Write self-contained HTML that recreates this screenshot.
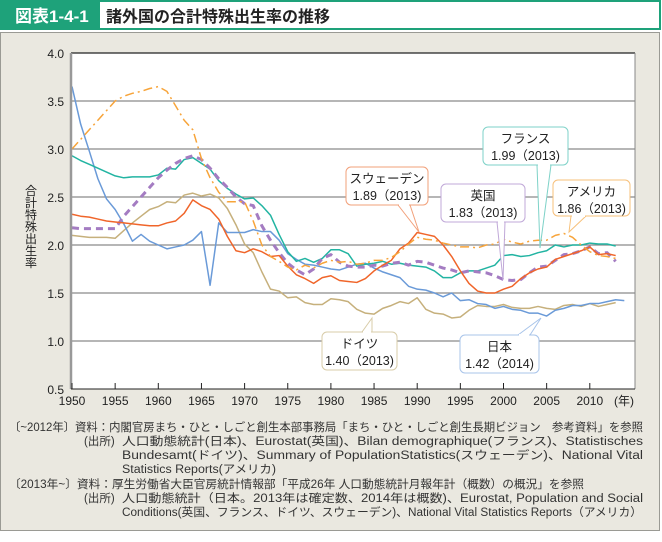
<!DOCTYPE html>
<html><head><meta charset="utf-8">
<style>
body{margin:0;width:662px;height:537px;background:#fff;font-family:"Liberation Sans","Noto Sans CJK JP",sans-serif;overflow:hidden}
svg text{font-family:"Liberation Sans","Noto Sans CJK JP",sans-serif}
</style></head>
<body>
<svg width="662" height="537" viewBox="0 0 662 537" xmlns="http://www.w3.org/2000/svg" id="chart">
<rect x="0.5" y="32.5" width="659" height="498" fill="#eae8e0" stroke="#9a9a94"/>
<rect x="0" y="0" width="98" height="30" fill="#1ea27a"/>
<text x="15" y="22" font-size="17" font-weight="bold" fill="#fff">図表1-4-1</text>
<rect x="99" y="1" width="561" height="28" fill="#fff" stroke="#1ea27a" stroke-width="2"/>
<text x="106" y="22" font-size="16" font-weight="bold" fill="#222">諸外国の合計特殊出生率の推移</text>
<rect x="71" y="53" width="564" height="336" fill="#fff"/>
<g id="grid"></g>
<g id="series"></g>
<line x1="71" y1="53" x2="635" y2="53" stroke="#222" stroke-width="1.2"/>
<line x1="635" y1="53" x2="635" y2="389" stroke="#888" stroke-width="1"/>
<line x1="71" y1="53" x2="71" y2="389" stroke="#999" stroke-width="2.5"/>
<line x1="71" y1="389" x2="635" y2="389" stroke="#222" stroke-width="1"/>
<g id="ticks"></g>
<text x="614" y="405" font-size="12" fill="#222">(年)</text>
<g font-size="12" fill="#222" text-anchor="middle">
<text x="31" y="195">合</text><text x="31" y="207">計</text><text x="31" y="219">特</text><text x="31" y="231">殊</text><text x="31" y="243">出</text><text x="31" y="255">生</text><text x="31" y="267">率</text>
</g>
<g id="callouts"></g>
<g font-size="11.5" fill="#333">
<text x="9" y="431" textLength="634" lengthAdjust="spacingAndGlyphs">〔~2012年〕資料：内閣官房まち・ひと・しごと創生本部事務局「まち・ひと・しごと創生長期ビジョン　参考資料」を参照</text>
<text x="84" y="445">(出所)</text>
<text x="122" y="445" textLength="521" lengthAdjust="spacingAndGlyphs">人口動態統計(日本)、Eurostat(英国)、Bilan demographique(フランス)、Statistisches</text>
<text x="122" y="459" textLength="521" lengthAdjust="spacingAndGlyphs">Bundesamt(ドイツ)、Summary of  PopulationStatistics(スウェーデン)、National Vital</text>
<text x="122" y="473" textLength="154" lengthAdjust="spacingAndGlyphs">Statistics Reports(アメリカ)</text>
<text x="9" y="488" textLength="575" lengthAdjust="spacingAndGlyphs">〔2013年~〕資料：厚生労働省大臣官房統計情報部「平成26年 人口動態統計月報年計（概数）の概況」を参照</text>
<text x="84" y="502">(出所)</text>
<text x="122" y="502" textLength="521" lengthAdjust="spacingAndGlyphs">人口動態統計（日本。2013年は確定数、2014年は概数)、Eurostat, Population and Social</text>
<text x="122" y="516" textLength="520" lengthAdjust="spacingAndGlyphs">Conditions(英国、フランス、ドイツ、スウェーデン)、National Vital Statistics Reports（アメリカ）</text>
</g>
</svg>
<script>
const yTicks=[0.5,1.0,1.5,2.0,2.5,3.0,3.5,4.0];
const xTicks=[1950,1955,1960,1965,1970,1975,1980,1985,1990,1995,2000,2005,2010];
const startYear=1950;
const japan=[3.65,3.26,2.98,2.69,2.48,2.37,2.22,2.04,2.11,2.04,2.00,1.96,1.98,2.00,2.05,2.14,1.58,2.23,2.13,2.13,2.13,2.16,2.14,2.14,2.05,1.91,1.85,1.80,1.79,1.77,1.75,1.74,1.77,1.80,1.81,1.76,1.72,1.69,1.66,1.57,1.54,1.53,1.50,1.46,1.50,1.42,1.43,1.39,1.38,1.34,1.36,1.33,1.32,1.29,1.29,1.26,1.32,1.34,1.37,1.37,1.39,1.39,1.41,1.43,1.42];
const usa=[3.0,3.1,3.2,3.3,3.4,3.5,3.55,3.58,3.6,3.63,3.65,3.6,3.45,3.3,3.2,2.9,2.7,2.55,2.45,2.45,2.45,2.25,2.0,1.88,1.83,1.77,1.74,1.79,1.76,1.81,1.84,1.82,1.83,1.80,1.81,1.84,1.84,1.87,1.93,2.01,2.08,2.06,2.05,2.02,2.00,1.98,1.98,1.97,2.00,2.01,2.06,2.03,2.01,2.04,2.05,2.05,2.10,2.12,2.08,2.00,1.93,1.89,1.88,1.86];
const france=[2.93,2.88,2.84,2.80,2.76,2.72,2.70,2.71,2.71,2.71,2.73,2.80,2.79,2.89,2.91,2.85,2.79,2.67,2.59,2.53,2.48,2.49,2.41,2.31,2.11,1.93,1.83,1.86,1.82,1.86,1.95,1.95,1.91,1.78,1.80,1.81,1.83,1.80,1.81,1.79,1.78,1.77,1.73,1.66,1.66,1.71,1.73,1.73,1.76,1.79,1.89,1.90,1.88,1.89,1.92,1.94,2.00,1.98,2.00,2.00,2.02,2.01,2.01,1.99];
const sweden=[2.32,2.30,2.29,2.27,2.25,2.24,2.23,2.22,2.21,2.20,2.20,2.23,2.25,2.33,2.47,2.41,2.37,2.27,2.09,1.94,1.92,1.96,1.93,1.88,1.89,1.78,1.69,1.65,1.60,1.66,1.68,1.63,1.62,1.61,1.65,1.73,1.79,1.84,1.96,2.02,2.13,2.11,2.09,2.00,1.88,1.73,1.60,1.52,1.50,1.50,1.54,1.57,1.65,1.71,1.75,1.77,1.85,1.88,1.91,1.94,1.98,1.90,1.91,1.89];
const uk=[2.18,2.17,2.17,2.17,2.17,2.17,2.30,2.40,2.50,2.60,2.70,2.78,2.85,2.90,2.93,2.89,2.80,2.69,2.60,2.50,2.43,2.41,2.20,2.05,1.92,1.81,1.74,1.69,1.75,1.86,1.90,1.82,1.78,1.77,1.77,1.79,1.78,1.81,1.82,1.79,1.83,1.82,1.79,1.76,1.74,1.71,1.73,1.72,1.71,1.68,1.64,1.63,1.64,1.71,1.77,1.78,1.84,1.90,1.91,1.94,1.98,1.91,1.92,1.83];
const germany=[2.10,2.09,2.08,2.08,2.08,2.07,2.15,2.23,2.30,2.37,2.40,2.45,2.44,2.52,2.54,2.51,2.53,2.49,2.38,2.21,2.01,1.92,1.72,1.54,1.52,1.45,1.46,1.40,1.38,1.38,1.44,1.43,1.41,1.33,1.29,1.28,1.34,1.37,1.41,1.39,1.45,1.33,1.29,1.28,1.24,1.25,1.32,1.37,1.36,1.36,1.38,1.35,1.34,1.34,1.36,1.34,1.33,1.37,1.38,1.36,1.39,1.36,1.38,1.40];
const NS='http://www.w3.org/2000/svg';
function sx(yr){return 72+(yr-1950)*8.63;}
function sy(v){return 389-(v-0.5)*96;}
function mk(t,a,p){const e=document.createElementNS(NS,t);for(const k in a)e.setAttribute(k,a[k]);(p||document.getElementById('chart')).appendChild(e);return e;}
const grid=document.getElementById('grid'),ticks=document.getElementById('ticks'),ser=document.getElementById('series');
yTicks.forEach(v=>{
  if(v>0.5&&v<4){const l=mk('line',{x1:71,x2:635,y1:sy(v),y2:sy(v),stroke:'#8a8a8a','stroke-width':1.2},grid);
  
  }
  const t=mk('text',{x:64,y:sy(v)+5,'font-size':12,'text-anchor':'end',fill:'#222'},ticks);t.textContent=v.toFixed(1);
  
  
});
xTicks.forEach(yr=>{
  mk('line',{x1:sx(yr),x2:sx(yr),y1:383,y2:389,stroke:'#222'},ticks);
  const t=mk('text',{x:sx(yr),y:405,'font-size':12,'text-anchor':'middle',fill:'#222'},ticks);t.textContent=yr;
  
  
});
function line(data,color,w,dash,name){
  const p=mk('polyline',{points:data.map((v,i)=>sx(startYear+i)+','+sy(v)).join(' '),fill:'none',stroke:color,'stroke-width':w,'stroke-dasharray':dash||'none','stroke-linejoin':'round'},ser);
  
  
}
line(germany,'#c6b07c',1.5,'','line-germany');
line(japan,'#6a9ad8',1.5,'','line-japan');
line(france,'#22b4a2',1.5,'','line-france');
line(uk,'#a47cc2',3,'7 5','line-uk');
line(sweden,'#f0652a',1.5,'','line-sweden');
line(usa,'#f7a43a',1.5,'9 4 2 4','line-usa');
const cg=document.getElementById('callouts');
function callout(x,y,w,h,px,py,b1,b2,b3,col,l1,l2,name){
  const g=mk('g',{},cg);
  
  
  mk('rect',{x:x,y:y,width:w,height:h,rx:5,fill:'#fff',stroke:col},g);
  mk('polygon',{points:b1+','+b3+' '+px+','+py+' '+b2+','+b3,fill:'#fff',stroke:col},g);
  mk('line',{x1:b1+1,x2:b2-1,y1:b3,y2:b3,stroke:'#fff','stroke-width':2},g);
  const t1=mk('text',{x:x+w/2,y:y+16,'font-size':12.5,'text-anchor':'middle',fill:'#222'},g);t1.textContent=l1;
  const t2=mk('text',{x:x+w/2,y:y+33,'font-size':12.5,'text-anchor':'middle',fill:'#222'},g);t2.textContent=l2;
}
callout(346,167,82,38,419,232,398,410,205,'#f2a07a','スウェーデン','1.89（2013)','callout-sweden');
callout(441,184,84,38,503,280,497,505,222,'#c0a8d8','英国','1.83（2013)','callout-uk');
callout(483,127,85,38,540,248,537,551,165,'#7ed2c8','フランス','1.99（2013)','callout-france');
callout(553,180,77,36,569,232,571,586,216,'#f7c07a','アメリカ','1.86（2013)','callout-usa');
callout(322,332,75,38,372,318,362,372,332,'#d8cca8','ドイツ','1.40（2013)','callout-germany');
callout(460,335,79,38,541,318,518,530,335,'#a8c4ea','日本','1.42（2014)','callout-japan');
</script>
</body></html>
